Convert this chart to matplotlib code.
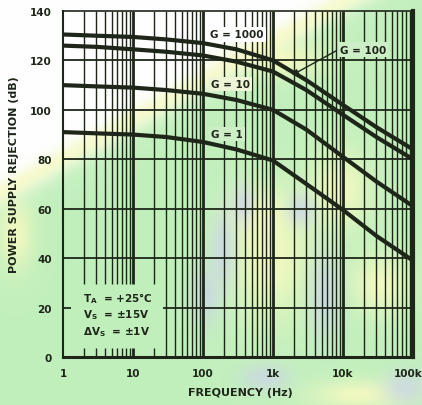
import numpy as np
import matplotlib
matplotlib.use("Agg")
import matplotlib.pyplot as plt
from matplotlib.transforms import offset_copy

plt.rcParams['font.family'] = ['DejaVu Sans']
plt.rcParams['font.weight'] = 'bold'
plt.rcParams['mathtext.fontset'] = 'dejavusans'
plt.rcParams['mathtext.default'] = 'bf'

# PSR curves, read at these frequencies (Hz)
freq = [1, 3, 10, 30, 100, 300, 1e3, 3e3, 1e4, 3e4, 1e5]
psr_g1000 = [130.5, 130, 129.5, 128.5, 127, 124.5, 120, 112, 102, 93, 84]
psr_g100 = [126, 125.5, 124.5, 123.5, 122, 119.5, 115.5, 108, 98, 89, 80]
psr_g10 = [110, 109.5, 109, 108, 106.5, 104, 100, 92, 81, 71, 61]
psr_g1 = [91, 90.5, 90, 89, 87, 84, 79.5, 70, 59.5, 49, 39]

x_ticks = [1, 10, 100, 1e3, 1e4, 1e5]
x_tick_labels = ['1', '10', '100', '1k', '10k', '100k']
y_ticks = [0, 20, 40, 60, 80, 100, 120, 140]

ink = '#1e261a'
W, H = 422, 406


def background():
	# soft green / yellow / blue tint behind the graph
	yy, xx = np.mgrid[0:H, 0:W].astype(float)
	white = np.array([1.0, 1.0, 1.0])
	green = np.array([0.76, 0.94, 0.74])
	yellow = np.array([0.98, 0.98, 0.76])
	blue = np.array([0.80, 0.84, 0.90])
	s = xx / 340 + yy / 190
	g = 1 / (1 + np.exp(-(s - 1.06) / 0.04))
	img = white * (1 - g)[..., None] + green * g[..., None]
	band = 0.7 * np.exp(-((s - 1.02) / 0.06) ** 2)
	img = img * (1 - band)[..., None] + yellow * band[..., None]

	def blob(img, cx, cy, sx, sy, col, k):
		w = k * np.exp(-(((xx - cx) / sx) ** 2 + ((yy - cy) / sy) ** 2))
		return img * (1 - w)[..., None] + col * w[..., None]

	for cx, cy, sx, sy in [(270, 260, 40, 60), (340, 190, 30, 40), (380, 285, 30, 30),
			(360, 395, 50, 15), (260, 215, 30, 25), (280, 60, 45, 18), (15, 235, 18, 35)]:
		img = blob(img, cx, cy, sx, sy, yellow, 0.85)
	for cx, cy, sx, sy in [(205, 295, 14, 30), (222, 250, 12, 40), (325, 295, 16, 45),
			(265, 378, 25, 14), (405, 388, 22, 18), (300, 210, 14, 16), (243, 205, 12, 20)]:
		img = blob(img, cx, cy, sx, sy, blue, 0.8)
	return np.clip(img, 0, 1)


fig = plt.figure(figsize=(W / 100, H / 100), dpi=100)
bg = fig.add_axes([0, 0, 1, 1], zorder=0)
bg.imshow(background(), aspect='auto', interpolation='bilinear')
bg.axis('off')

ax = fig.add_axes([63 / W, 1 - 358 / H, 350 / W, 346 / H], zorder=1)
ax.set_facecolor('none')
ax.set_xscale('log')
ax.set_xlim(1, 1e5)
ax.set_ylim(0, 140)

# log grid; the lines left of ~25 Hz stop above the conditions text
for d in range(5):
	for m in range(1, 10):
		f = m * 10 ** d
		if f <= 1:
			continue
		lw = 2.0 if m == 1 else 1.0
		if f <= 20:
			ax.vlines(f, 29.5, 140, color=ink, lw=lw)
			ax.vlines(f, 0, 3.5, color=ink, lw=lw)
		else:
			ax.vlines(f, 0, 140, color=ink, lw=lw)
for y in y_ticks[1:-1]:
	if y == 20:
		ax.hlines(y, 1, 1.3, color=ink, lw=1.3)
		ax.hlines(y, 27, 1e5, color=ink, lw=1.3)
	else:
		ax.hlines(y, 1, 1e5, color=ink, lw=1.3)

for psr in [psr_g1000, psr_g100, psr_g10, psr_g1]:
	ax.plot(freq, psr, color=ink, lw=3.0, solid_capstyle='butt')

lab = dict(fontsize=7.5, fontweight='bold', color=ink, va='center', ha='left')
ax.text(126, 130.5, 'G = 1000', bbox=dict(fc='white', ec='none', pad=1.5), **lab)
ax.text(9060, 124.4, 'G = 100', bbox=dict(fc='#cdeec6', ec='none', pad=1.5), **lab)
ax.text(130, 110.3, 'G = 10', bbox=dict(fc='#eef5d6', ec='none', pad=1.5), **lab)
ax.text(130, 90.1, 'G = 1', bbox=dict(fc='#cdeec6', ec='none', pad=1.5), **lab)
ax.annotate('', xy=(1720, 113.5), xytext=(8600, 124.4),
	arrowprops=dict(arrowstyle='-|>', color=ink, lw=1.0, mutation_scale=9))

cond = dict(fontsize=7.5, color=ink, va='center', ha='left')
ax.text(1.93, 24.2, '$T_A$  = +25°C', **cond)
ax.text(1.93, 17.4, '$V_S$  = ±15V', **cond)
ax.text(1.93, 10.5, '$\\Delta V_S$  = ±1V', **cond)

ax.set_xticks(x_ticks)
ax.set_xticklabels(x_tick_labels)
ax.set_yticks(y_ticks)
ax.minorticks_off()
ax.tick_params(length=0, labelsize=7.5, colors=ink, pad=8)
for t in ax.get_xticklabels() + ax.get_yticklabels():
	t.set_fontweight('bold')
# keep "100k" inside the figure edge
last = ax.get_xticklabels()[-1]
last.set_transform(offset_copy(last.get_transform(), fig=fig, x=-5, units='dots'))

for side, lw in [('left', 1.5), ('bottom', 2.2), ('right', 3.0), ('top', 1.2)]:
	ax.spines[side].set_linewidth(lw)
	ax.spines[side].set_color(ink)

fig.text(14 / W, 1 - 175 / H, 'POWER SUPPLY REJECTION (dB)', rotation=90,
	ha='center', va='center', fontsize=8, fontweight='bold', color=ink)
fig.text(240 / W, 1 - 393 / H, 'FREQUENCY (Hz)', ha='center', va='center',
	fontsize=8, fontweight='bold', color=ink)

fig.savefig('out.png', dpi=100)
